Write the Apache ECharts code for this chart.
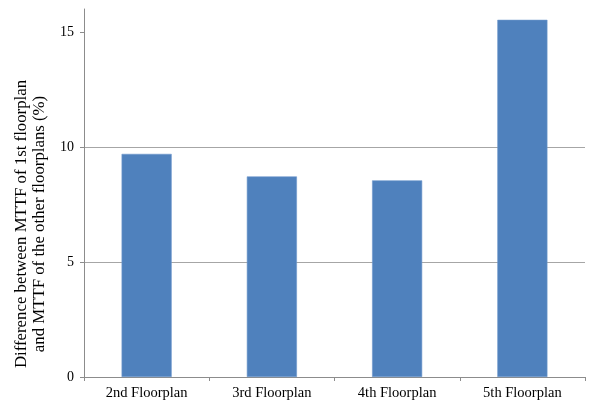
<!DOCTYPE html>
<html>
<head>
<meta charset="utf-8">
<script src="https://cdn.jsdelivr.net/npm/echarts@6/dist/echarts.min.js"></script>
<style>
  html, body { margin: 0; padding: 0; background: #fff; }
  #chart { width: 590px; height: 402px; }
</style>
</head>
<body>
<div id="chart"></div>
<script>
// Floorplans compared against the 1st one
const categories = ['2nd Floorplan', '3rd Floorplan', '4th Floorplan', '5th Floorplan'];
// MTTF difference relative to the 1st floorplan, in percent
const mttfDiff = [9.70, 8.72, 8.55, 15.53];
// Labelled ticks on the value axis
const yTicks = [0, 5, 10, 15];

const serif = 'Liberation Serif';
const chart = echarts.init(document.getElementById('chart'), null, { renderer: 'canvas' });

chart.setOption({
  animation: false,
  backgroundColor: '#ffffff',
  grid: { left: 84, right: 5, top: 9, bottom: 25, containLabel: false },
  xAxis: {
    type: 'category',
    data: categories,
    boundaryGap: true,
    axisLine: { show: true, lineStyle: { color: '#8c8c8c', width: 1 } },
    axisTick: { show: true, alignWithLabel: false, length: 4, lineStyle: { color: '#8c8c8c' } },
    axisLabel: { fontFamily: serif, fontSize: 14.5, color: '#000', margin: 9 }
  },
  yAxis: {
    type: 'value',
    min: 0,
    max: 16,
    interval: 5,
    name: 'Difference between MTTF of 1st floorplan\nand MTTF of the other floorplans (%)',
    nameLocation: 'middle',
    nameGap: 34,
    nameTextStyle: {
      fontFamily: serif, fontSize: 16.8, color: '#000', lineHeight: 18,
      align: 'center', padding: [0, 62, 0, 0]
    },
    axisLine: { show: true, lineStyle: { color: '#8c8c8c', width: 1 } },
    axisTick: { show: true, length: 4, customValues: yTicks, lineStyle: { color: '#8c8c8c' } },
    axisLabel: { fontFamily: serif, fontSize: 14, color: '#000', margin: 10, customValues: yTicks },
    splitLine: { show: true, showMaxLine: false, lineStyle: { color: '#a6a6a6', width: 1 } }
  },
  series: [{
    type: 'bar',
    data: mttfDiff,
    barWidth: '40%',
    itemStyle: { color: '#4f81bd', borderColor: '#6e98cc', borderWidth: 0.6 }
  }]
});
</script>
</body>
</html>
